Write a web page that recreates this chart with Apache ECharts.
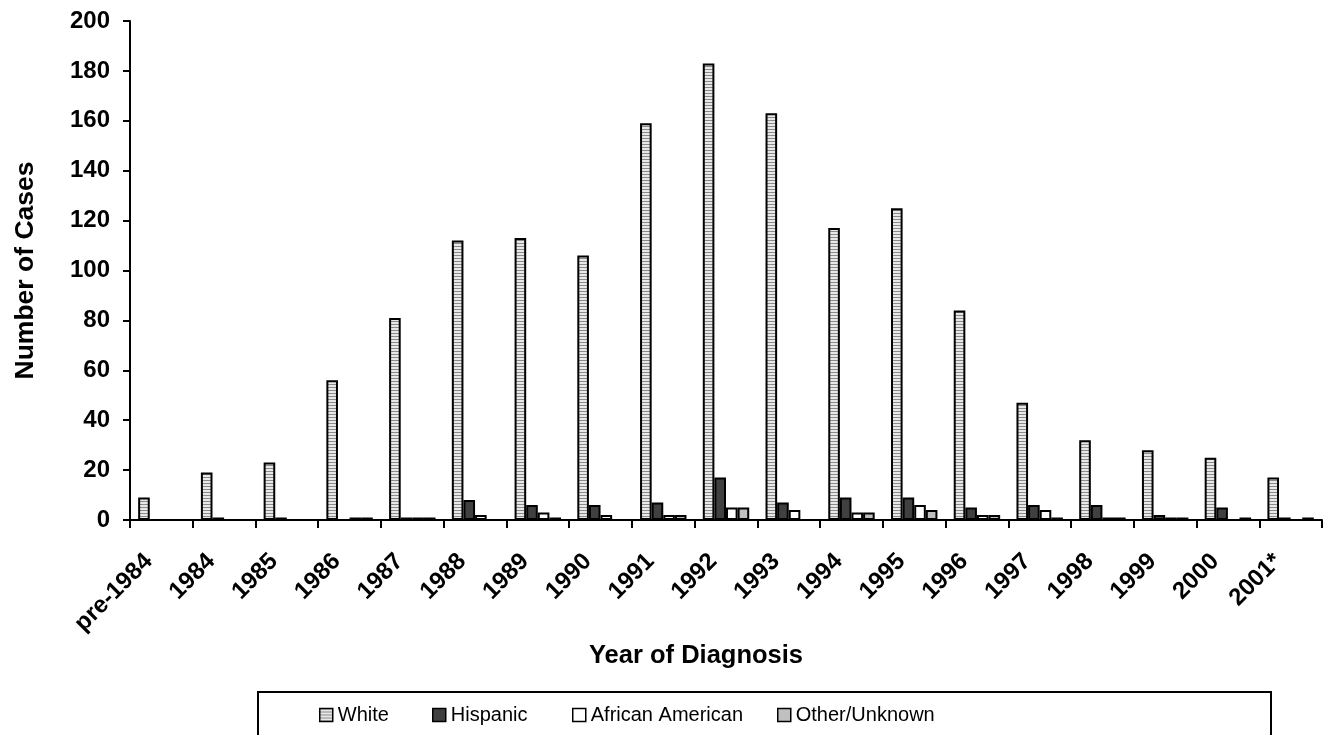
<!DOCTYPE html>
<html>
<head>
<meta charset="utf-8">
<script src="https://cdn.jsdelivr.net/npm/echarts@6/dist/echarts.min.js"></script>
<style>
html,body{margin:0;padding:0;background:#fff;}
#chart{width:1327px;height:735px;}
</style>
</head>
<body>
<div id="chart"></div>
<script>
var categories = ['pre-1984','1984','1985','1986','1987','1988','1989','1990','1991','1992','1993','1994','1995','1996','1997','1998','1999','2000','2001*'];
var white = [9,19,23,56,81,112,113,106,159,183,163,117,125,84,47,32,28,25,17];
var hispanic = [0,1,1,0,1,8,6,6,7,17,7,9,9,5,6,6,2,5,1];
var africanAmerican = [0,0,0,1,1,2,3,2,2,5,4,3,6,2,4,1,1,0,0];
var otherUnknown = [0,0,0,1,1,0,1,0,2,5,0,3,4,2,1,1,1,1,1];
var seriesNames = ['White','Hispanic','African American','Other/Unknown'];
var yTicks = {min: 0, max: 200, interval: 20};

var FONT = '"Liberation Sans", Arial, sans-serif';

// striped pattern for the "White" series
var pc = document.createElement('canvas');
pc.width = 4; pc.height = 3;
var pctx = pc.getContext('2d');
pctx.fillStyle = '#e8e8e8';
pctx.fillRect(0, 0, 4, 3);
pctx.fillStyle = '#8a8a8a';
pctx.fillRect(0, 0, 4, 1);
var stripe = {image: pc, repeat: 'repeat'};

var fills = [stripe, '#404040', '#ffffff', '#c0c0c0'];
var values = [white, hispanic, africanAmerican, otherUnknown];
var legendLefts = [319, 432, 572, 777];

var chart = echarts.init(document.getElementById('chart'), null, {renderer: 'canvas'});

var series = seriesNames.map(function (n, i) {
  return {
    name: n,
    type: 'bar',
    data: values[i],
    barGap: '0%',
    barCategoryGap: '26%',
    itemStyle: {color: fills[i], borderColor: '#000', borderWidth: 2},
    emphasis: {disabled: true}
  };
});

var legends = seriesNames.map(function (n, i) {
  return {
    data: [n],
    left: legendLefts[i],
    top: 705,
    padding: 0,
    itemWidth: 13,
    itemHeight: 13,
    icon: 'rect',
    selectedMode: false,
    itemStyle: {borderColor: '#000', borderWidth: 1.5},
    textStyle: {fontFamily: FONT, fontSize: 20, color: '#000'}
  };
});

chart.setOption({
  animation: false,
  backgroundColor: '#fff',
  grid: {left: 130, right: 5, top: 21, bottom: 215, containLabel: false},
  legend: legends,
  graphic: [{
    type: 'rect',
    shape: {x: 258, y: 692, width: 1013, height: 70},
    style: {fill: 'none', stroke: '#000', lineWidth: 2},
    silent: true
  }],
  xAxis: {
    type: 'category',
    data: categories,
    boundaryGap: true,
    name: 'Year of Diagnosis',
    nameLocation: 'middle',
    nameGap: 110,
    nameTextStyle: {fontFamily: FONT, fontSize: 25.5, fontWeight: 'bold', color: '#000', padding: [0, 60, 0, 0]},
    axisLine: {lineStyle: {color: '#000', width: 2}},
    axisTick: {show: true, length: 8, lineStyle: {color: '#000', width: 2}},
    axisLabel: {
      interval: 0, rotate: 45, margin: 25, padding: [0, 18, 0, 0],
      fontFamily: FONT, fontSize: 24, fontWeight: 'bold', color: '#000'
    },
    splitLine: {show: false}
  },
  yAxis: {
    type: 'value',
    min: yTicks.min, max: yTicks.max, interval: yTicks.interval,
    name: 'Number of Cases',
    nameLocation: 'middle',
    nameGap: 91,
    nameTextStyle: {fontFamily: FONT, fontSize: 26.5, fontWeight: 'bold', color: '#000'},
    axisLine: {show: true, lineStyle: {color: '#000', width: 2}},
    axisTick: {show: true, length: 7, lineStyle: {color: '#000', width: 2}},
    axisLabel: {margin: 20, fontFamily: FONT, fontSize: 24, fontWeight: 'bold', color: '#000'},
    splitLine: {show: false}
  },
  series: series
});
</script>
</body>
</html>
